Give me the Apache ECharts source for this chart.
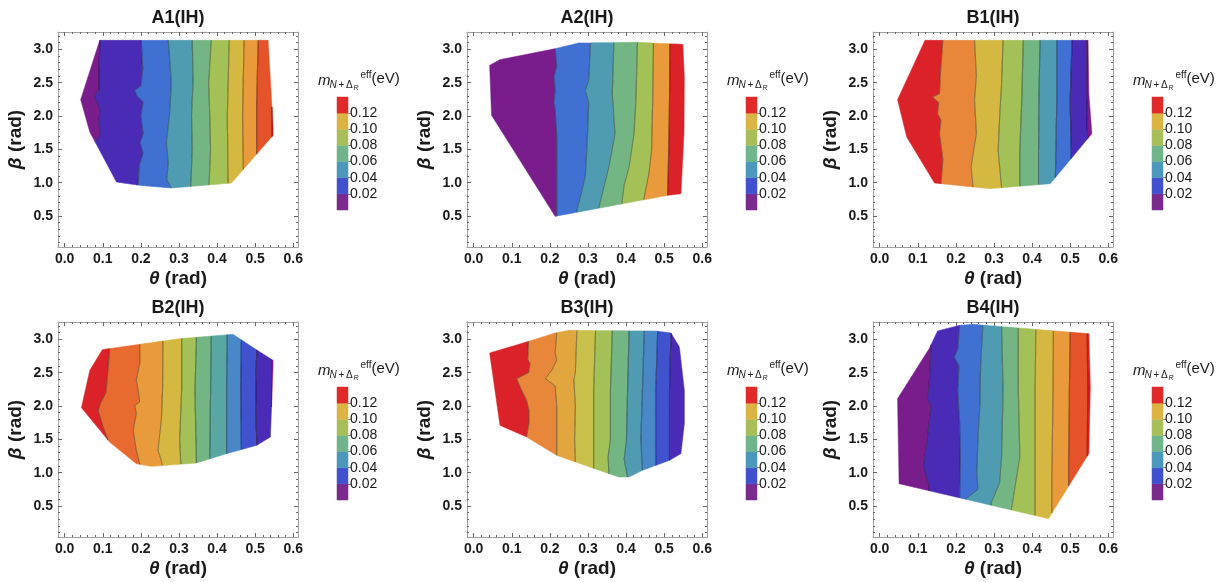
<!DOCTYPE html>
<html><head><meta charset="utf-8">
<script src="https://cdn.jsdelivr.net/npm/echarts@6/dist/echarts.min.js"></script>
<style>html,body{margin:0;padding:0;background:#fff}#c{width:1227px;height:582px}</style>
</head><body><div id="c"></div>
<script>
// ---------------- DATA ----------------
const TITLES = ['A1(IH)', 'A2(IH)', 'B1(IH)', 'B2(IH)', 'B3(IH)', 'B4(IH)'];
const X_TICKS = [0.0, 0.1, 0.2, 0.3, 0.4, 0.5, 0.6];
const Y_TICKS = [0.5, 1.0, 1.5, 2.0, 2.5, 3.0];
const LEGEND_TICKS = [0.02, 0.04, 0.06, 0.08, 0.10, 0.12];
const LEGEND_LEVELS = [0.00, 0.02, 0.04, 0.06, 0.08, 0.10, 0.12, 0.14];

// allowed region (theta, beta) of each panel
const A1_hull = [[0.092,3.135],[0.534,3.135],[0.543,2.235],[0.547,1.835],[0.547,1.71],[0.438,0.995],[0.28,0.92],[0.197,0.96],[0.136,1.01],[0.066,1.76],[0.042,2.245]];
const A2_hull = [[0.042,2.76],[0.069,2.845],[0.214,3.01],[0.276,3.095],[0.426,3.105],[0.549,3.075],[0.553,2.585],[0.552,1.735],[0.544,0.835],[0.509,0.81],[0.214,0.495],[0.047,2.01]];
const B1_hull = [[0.119,3.135],[0.547,3.135],[0.549,2.335],[0.557,1.735],[0.448,0.985],[0.289,0.91],[0.144,0.995],[0.071,1.685],[0.047,2.245]];
const B2_hull = [[0.099,2.845],[0.197,2.925],[0.302,3.01],[0.442,3.075],[0.499,2.86],[0.547,2.685],[0.547,2.585],[0.54,1.535],[0.504,1.41],[0.425,1.285],[0.346,1.145],[0.228,1.095],[0.188,1.135],[0.118,1.46],[0.044,1.975],[0.066,2.535]];
const B3_hull = [[0.042,2.795],[0.13,2.945],[0.214,3.095],[0.249,3.135],[0.478,3.125],[0.518,3.095],[0.54,2.885],[0.553,2.235],[0.553,1.735],[0.544,1.285],[0.514,1.185],[0.443,1.035],[0.408,0.935],[0.381,0.935],[0.355,0.985],[0.267,1.16],[0.218,1.26],[0.139,1.535],[0.069,1.71]];
const B4_hull = [[0.152,3.125],[0.21,3.21],[0.245,3.225],[0.549,3.085],[0.553,2.285],[0.549,1.285],[0.443,0.31],[0.051,0.835],[0.047,2.11],[0.13,2.86]];

// contour boundaries (theta, beta), beta ascending, left to right
const A1_contours = [
  [[0.076,1.6],[0.09,1.68],[0.094,1.75],[0.089,1.9],[0.093,2.1],[0.078,2.3],[0.09,2.38],[0.09,2.7],[0.093,3.14]],
  [[0.193,0.96],[0.195,1.24],[0.206,1.44],[0.198,1.6],[0.206,1.74],[0.2,2.0],[0.206,2.21],[0.19,2.3],[0.184,2.385],[0.2,2.45],[0.205,2.7],[0.201,3.14]],
  [[0.28,0.92],[0.268,1.05],[0.272,1.3],[0.267,1.6],[0.275,2.0],[0.28,2.5],[0.272,3.14]],
  [[0.331,0.95],[0.335,1.5],[0.333,2.0],[0.337,2.5],[0.335,3.14]],
  [[0.379,0.95],[0.383,1.5],[0.381,2.0],[0.378,2.5],[0.385,3.14]],
  [[0.429,0.95],[0.427,2.0],[0.432,3.14]],
  [[0.469,1.2],[0.467,2.0],[0.471,3.14]],
  [[0.504,1.4],[0.504,2.2],[0.508,3.14]],
  [[0.544,1.0],[0.544,3.14]]
];
const A2_contours = [
  [[0.218,0.49],[0.218,1.7],[0.214,2.1],[0.211,2.2],[0.214,2.4],[0.211,2.585],[0.218,2.75],[0.214,3.02]],
  [[0.271,0.585],[0.28,0.785],[0.293,1.085],[0.298,1.6],[0.302,2.2],[0.293,2.385],[0.302,2.535],[0.307,3.1]],
  [[0.329,0.635],[0.342,0.935],[0.355,1.235],[0.371,1.735],[0.364,2.335],[0.368,3.1]],
  [[0.389,0.685],[0.395,0.96],[0.408,1.235],[0.421,1.735],[0.426,2.235],[0.43,3.1]],
  [[0.447,0.76],[0.46,1.135],[0.467,1.485],[0.47,2.235],[0.472,3.1]],
  [[0.509,0.8],[0.512,1.485],[0.514,2.235],[0.515,3.1]]
];
const B1_contours = [
  [[0.161,0.99],[0.166,1.35],[0.157,1.735],[0.161,1.935],[0.152,2.035],[0.155,2.2],[0.139,2.285],[0.157,2.335],[0.159,2.6],[0.166,3.14]],
  [[0.245,0.95],[0.24,1.235],[0.254,1.735],[0.249,2.235],[0.254,2.6],[0.249,3.14]],
  [[0.32,0.93],[0.311,1.485],[0.315,1.985],[0.32,2.485],[0.324,3.14]],
  [[0.368,0.95],[0.368,1.485],[0.373,2.235],[0.377,3.14]],
  [[0.417,0.95],[0.417,1.485],[0.418,2.235],[0.421,3.14]],
  [[0.461,1.0],[0.465,2.235],[0.465,3.14]],
  [[0.503,1.4],[0.5,2.235],[0.505,3.14]],
  [[0.546,1.6],[0.544,2.3],[0.543,3.14]]
];
const B2_contours = [
  [[0.116,1.46],[0.1,1.7],[0.088,1.93],[0.093,2.03],[0.108,2.2],[0.113,2.5],[0.118,2.85]],
  [[0.197,1.135],[0.188,1.335],[0.18,1.635],[0.188,1.885],[0.184,2.01],[0.197,2.06],[0.193,2.235],[0.188,2.385],[0.197,2.635],[0.197,2.93]],
  [[0.257,1.11],[0.25,1.25],[0.245,1.335],[0.254,1.8],[0.257,2.235],[0.258,3.0]],
  [[0.305,1.11],[0.302,1.5],[0.307,2.235],[0.307,3.02]],
  [[0.346,1.14],[0.342,2.235],[0.346,3.04]],
  [[0.381,1.2],[0.383,2.235],[0.385,3.06]],
  [[0.425,1.28],[0.425,2.235],[0.427,3.07]],
  [[0.464,1.35],[0.462,2.235],[0.464,3.0]],
  [[0.504,1.4],[0.502,2.235],[0.504,2.85]],
  [[0.543,1.5],[0.543,2.7]]
];
const B3_contours = [
  [[0.139,1.535],[0.145,1.735],[0.145,1.935],[0.139,2.085],[0.126,2.235],[0.113,2.41],[0.144,2.5],[0.148,2.635],[0.142,2.7],[0.144,2.95]],
  [[0.218,1.26],[0.218,2.0],[0.214,2.3],[0.188,2.41],[0.205,2.535],[0.218,2.685],[0.214,2.8],[0.218,3.1]],
  [[0.267,1.16],[0.265,1.5],[0.267,2.0],[0.263,2.4],[0.267,2.5],[0.271,3.14]],
  [[0.315,1.05],[0.315,1.5],[0.315,2.235],[0.32,3.14]],
  [[0.355,0.98],[0.353,1.235],[0.359,1.5],[0.359,2.235],[0.364,3.14]],
  [[0.404,0.93],[0.395,1.2],[0.401,1.485],[0.404,2.235],[0.408,3.14]],
  [[0.443,1.03],[0.439,1.485],[0.443,2.235],[0.448,3.13]],
  [[0.478,1.1],[0.478,2.235],[0.483,3.13]],
  [[0.514,1.18],[0.514,2.235],[0.518,3.1]]
];
const B4_contours = [
  [[0.13,0.82],[0.125,0.9],[0.115,1.1],[0.125,1.5],[0.135,2.0],[0.125,2.1],[0.13,2.3],[0.135,2.9]],
  [[0.21,0.65],[0.212,1.2],[0.21,1.735],[0.205,2.235],[0.208,2.6],[0.196,2.735],[0.205,2.85],[0.21,3.22]],
  [[0.225,0.6],[0.258,0.75],[0.255,1.0],[0.258,1.5],[0.263,2.0],[0.265,2.6],[0.271,3.22]],
  [[0.293,0.55],[0.315,0.85],[0.32,1.235],[0.324,2.235],[0.32,3.2]],
  [[0.346,0.45],[0.368,1.235],[0.364,2.235],[0.364,3.17]],
  [[0.408,0.35],[0.408,2.235],[0.41,3.14]],
  [[0.452,0.9],[0.455,2.235],[0.456,3.12]],
  [[0.496,1.2],[0.498,2.235],[0.5,3.1]],
  [[0.545,1.3],[0.546,2.235],[0.545,3.09]]
];

// ---------------- STYLE ----------------
const C = {
  purple:'#7a1d8c', indigo:'#4a2bb5', blue:'#4152cf', royal:'#4170d3', steel:'#4a87c7',
  teal:'#4f9cb2', teal2:'#59a7a3', green:'#73b583', yg:'#a4c157', gold2:'#c9bf4b',
  gold:'#d5b841', golden:'#e2a63f', orange:'#e99a3b', orange2:'#e8873a',
  orangered:'#e86a2f', redorange:'#e4532a', red:'#da2228'
};
const BAND_COLORS = [
  [C.purple, C.indigo, C.royal, C.teal, C.green, C.yg, C.gold, C.orange, C.redorange, C.red],
  [C.purple, C.royal, C.teal, C.green, C.yg, C.orange, C.red],
  [C.red, C.orange2, C.gold, C.yg, C.green, C.teal, C.royal, C.indigo, C.purple],
  [C.red, C.orangered, C.orange, C.gold, C.yg, C.green, C.teal2, C.steel, C.blue, C.indigo, C.purple],
  [C.red, C.orange2, C.golden, C.gold2, C.yg, C.green, C.teal, C.steel, C.blue, C.indigo],
  [C.purple, C.indigo, C.royal, C.teal, C.green, C.yg, C.gold, C.orange, C.redorange, C.red]
];
const LEGEND_COLORS = ['#7a2a8c', '#4150cc', '#4c98bc', '#6fb48a', '#a8be58', '#dcb444', '#e02a2a'];
const HULLS = [A1_hull, A2_hull, B1_hull, B2_hull, B3_hull, B4_hull];
const CONTOURS = [A1_contours, A2_contours, B1_contours, B2_contours, B3_contours, B4_contours];
const LAYOUT = [{left:58,top:32},{left:467,top:32},{left:873,top:32},{left:58,top:322},{left:467,top:322},{left:873,top:322}];
const FW = 240, FH = 215;
const X_MIN = -0.0175, X_MAX = 0.6125, Y_MIN = 0.035, Y_MAX = 3.26;
const FONT = '"Liberation Sans", Arial, sans-serif';

// minor tick positions (frame decoration)
const X_MINOR = [], Y_MINOR = [];
for (let i = 1; i <= 30; i++) if (i % 5) X_MINOR.push(+(i * 0.02).toFixed(2));
for (let i = 1; i <= 32; i++) if (i % 5) Y_MINOR.push(+(i * 0.1).toFixed(1));

// ---------------- GEOMETRY ----------------
function xAt(pts, b) {
  if (b <= pts[0][1]) return pts[0][0];
  const n = pts.length;
  if (b >= pts[n-1][1]) return pts[n-1][0];
  for (let i = 1; i < n; i++) {
    if (b <= pts[i][1]) {
      const [x0,b0] = pts[i-1], [x1,b1] = pts[i];
      return x0 + (x1 - x0) * (b - b0) / (b1 - b0);
    }
  }
}
function hullSpan(hull, b) {
  const xs = [];
  for (let i = 0; i < hull.length; i++) {
    const p = hull[i], q = hull[(i+1) % hull.length];
    if (p[1] === q[1]) continue;
    if ((p[1] - b) * (q[1] - b) <= 0) xs.push(p[0] + (q[0] - p[0]) * (b - p[1]) / (q[1] - p[1]));
  }
  if (xs.length < 2) return null;
  return [Math.min(...xs), Math.max(...xs)];
}
function hullRows(hull) {
  const bs = hull.map(p => p[1]);
  const bmin = Math.min(...bs), bmax = Math.max(...bs);
  const rows = [], N = 1000;
  for (let j = 0; j <= N; j++) {
    let b = bmin + (bmax - bmin) * j / N;
    if (j === 0) b += 1e-7; if (j === N) b -= 1e-7;
    const s = hullSpan(hull, b);
    if (s) rows.push({b, l: s[0], r: s[1]});
  }
  return rows;
}
function buildBands(hull, bounds) {
  const rows = hullRows(hull);
  const nb = bounds.length + 1, bands = [];
  for (let k = 0; k < nb; k++) {
    const runs = []; let cur = null;
    for (const row of rows) {
      const lo = k === 0 ? row.l : Math.max(row.l, xAt(bounds[k-1], row.b));
      const hi = k === nb - 1 ? row.r : Math.min(row.r, xAt(bounds[k], row.b));
      if (hi > lo) {
        if (!cur) { cur = {L: [], R: []}; runs.push(cur); }
        cur.L.push([lo, row.b]); cur.R.push([hi, row.b]);
      } else cur = null;
    }
    bands.push(runs.map(r => r.L.concat(r.R.slice().reverse())));
  }
  return bands;
}
function buildLines(hull, bounds) {
  const rows = hullRows(hull);
  return bounds.map(bd => {
    const runs = []; let cur = null;
    for (const row of rows) {
      const x = xAt(bd, row.b);
      if (x > row.l && x < row.r) {
        if (!cur) { cur = []; runs.push(cur); }
        cur.push([x, row.b]);
      } else cur = null;
    }
    return runs;
  });
}

// ---------------- OPTION ----------------
const grid = [], xAxis = [], yAxis = [], series = [], graphic = [];
const tickCol = '#666', frameCol = '#a0a0a0';

function frameAxis(kind, gi, pos, ticks, len, showLine, label) {
  const isX = kind === 'x';
  const ax = {
    type: 'value', gridIndex: gi, position: pos,
    min: isX ? X_MIN : Y_MIN, max: isX ? X_MAX : Y_MAX,
    axisLine: {show: showLine, onZero: false, lineStyle: {color: frameCol, width: 1}},
    axisTick: {show: true, inside: true, length: len, customValues: ticks, lineStyle: {color: tickCol, width: 1}},
    axisLabel: {show: false},
    splitLine: {show: false}
  };
  if (label) {
    ax.axisLabel = {
      show: true, customValues: ticks, formatter: v => (+v).toFixed(1),
      fontFamily: FONT, fontWeight: 'bold', fontSize: 14, color: '#1a1a1a',
      margin: 5
    };
    ax.name = isX ? '{i|θ} {b|(rad)}' : '{i|β} {b|(rad)}';
    ax.nameLocation = 'middle';
    ax.nameGap = isX ? 22 : 33;
    ax.nameTextStyle = {
      fontFamily: FONT, fontWeight: 'bold', fontSize: 19, color: '#1a1a1a',
      rich: {
        i: {fontFamily: FONT, fontStyle: 'italic', fontWeight: 'bold', fontSize: 19, color: '#1a1a1a'},
        b: {fontFamily: FONT, fontWeight: 'bold', fontSize: 19, color: '#1a1a1a'}
      }
    };
  }
  return ax;
}

for (let i = 0; i < 6; i++) {
  const L = LAYOUT[i].left, T = LAYOUT[i].top;
  grid.push({left: L, top: T, width: FW, height: FH, outerBoundsMode: 'none', containLabel: false});
  const gi = i;
  xAxis.push(frameAxis('x', gi, 'bottom', X_TICKS, 4, true, true));
  xAxis.push(frameAxis('x', gi, 'bottom', X_MINOR, 2, false, false));
  xAxis.push(frameAxis('x', gi, 'top', X_TICKS, 4, true, false));
  xAxis.push(frameAxis('x', gi, 'top', X_MINOR, 2, false, false));
  yAxis.push(frameAxis('y', gi, 'left', Y_TICKS, 4, true, true));
  yAxis.push(frameAxis('y', gi, 'left', Y_MINOR, 2, false, false));
  yAxis.push(frameAxis('y', gi, 'right', Y_TICKS, 4, true, false));
  yAxis.push(frameAxis('y', gi, 'right', Y_MINOR, 2, false, false));

  const bands = buildBands(HULLS[i], CONTOURS[i]);
  const lines = buildLines(HULLS[i], CONTOURS[i]);
  const cols = BAND_COLORS[i];
  series.push({
    type: 'custom', xAxisIndex: i * 4, yAxisIndex: i * 4, silent: true, animation: false, z: 2,
    data: bands.map(() => [0.3, 1.5]),
    renderItem: (params, api) => {
      const k = params.dataIndex;
      return {type: 'group', children: bands[k].map(run => ({
        type: 'polygon', shape: {points: run.map(p => api.coord(p))},
        style: {fill: cols[k], stroke: cols[k], lineWidth: 0.6}
      }))};
    }
  });
  series.push({
    type: 'custom', xAxisIndex: i * 4, yAxisIndex: i * 4, silent: true, animation: false, z: 3,
    data: lines.map(() => [0.3, 1.5]),
    renderItem: (params, api) => {
      const k = params.dataIndex;
      return {type: 'group', children: lines[k].map(run => ({
        type: 'polyline', shape: {points: run.map(p => api.coord(p))},
        style: {fill: null, stroke: 'rgba(45,45,45,0.6)', lineWidth: 0.9}
      }))};
    }
  });

  // panel title
  graphic.push({type: 'text', x: L + FW / 2, y: T - 14, silent: true,
    style: {text: TITLES[i], font: 'bold 18px ' + FONT, fill: '#1a1a1a', align: 'center', verticalAlign: 'middle', textAlign: 'center', textVerticalAlign: 'middle'}});

  // legend title m_{N+Δ_R}^{eff}(eV)
  const lt = (text, dx, dy, font) => ({type: 'text', x: L + dx, y: T + dy, silent: true,
    style: {text, font: font + ' ' + FONT, fill: '#1a1a1a', align: 'left', verticalAlign: 'middle', textAlign: 'left', textVerticalAlign: 'middle'}});
  graphic.push(lt('m', 260, 48.8, 'italic 15px'));
  graphic.push(lt('N', 271.5, 52.8, 'italic 10px'));
  graphic.push(lt('+', 280.5, 52.8, '10px'));
  graphic.push(lt('Δ', 288, 52.8, '10px'));
  graphic.push(lt('R', 295.5, 55.8, 'italic 7px'));
  graphic.push(lt('eff', 302.5, 42.8, '10px'));
  graphic.push(lt('(eV)', 313.5, 46.8, '15px'));
}

// legends (colour bars)
for (let i = 0; i < 6; i++) {
  const L = LAYOUT[i].left, T = LAYOUT[i].top;
  const gi = 6 + i;
  grid.push({left: L + 279, top: T + 65, width: 11, height: 113, outerBoundsMode: 'none', containLabel: false});
  xAxis.push({type: 'value', gridIndex: gi, min: 0, max: 1, show: false});
  yAxis.push({
    type: 'value', gridIndex: gi, position: 'right', min: LEGEND_LEVELS[0], max: LEGEND_LEVELS[LEGEND_LEVELS.length - 1],
    axisLine: {show: false, onZero: false},
    axisTick: {show: true, inside: false, length: 3, customValues: LEGEND_TICKS, lineStyle: {color: '#888'}},
    axisLabel: {show: true, customValues: LEGEND_TICKS, formatter: v => (+v).toFixed(2), fontFamily: FONT, fontSize: 14, color: '#1a1a1a', margin: 2},
    splitLine: {show: false}
  });
  series.push({
    type: 'custom', xAxisIndex: 24 + i, yAxisIndex: 24 + i, silent: true, animation: false,
    data: LEGEND_COLORS.map((c, k) => [0.5, LEGEND_LEVELS[k]]),
    renderItem: (params, api) => {
      const k = params.dataIndex;
      const p0 = api.coord([0, LEGEND_LEVELS[k]]), p1 = api.coord([1, LEGEND_LEVELS[k + 1]]);
      return {type: 'rect', shape: {x: p0[0], y: p1[1], width: p1[0] - p0[0], height: p0[1] - p1[1]},
        style: {fill: LEGEND_COLORS[k], stroke: LEGEND_COLORS[k], lineWidth: 0.5}};
    }
  });
}

const chart = echarts.init(document.getElementById('c'), null, {renderer: 'canvas'});
chart.setOption({animation: false, backgroundColor: '#fff', grid, xAxis, yAxis, series, graphic});
</script></body></html>
